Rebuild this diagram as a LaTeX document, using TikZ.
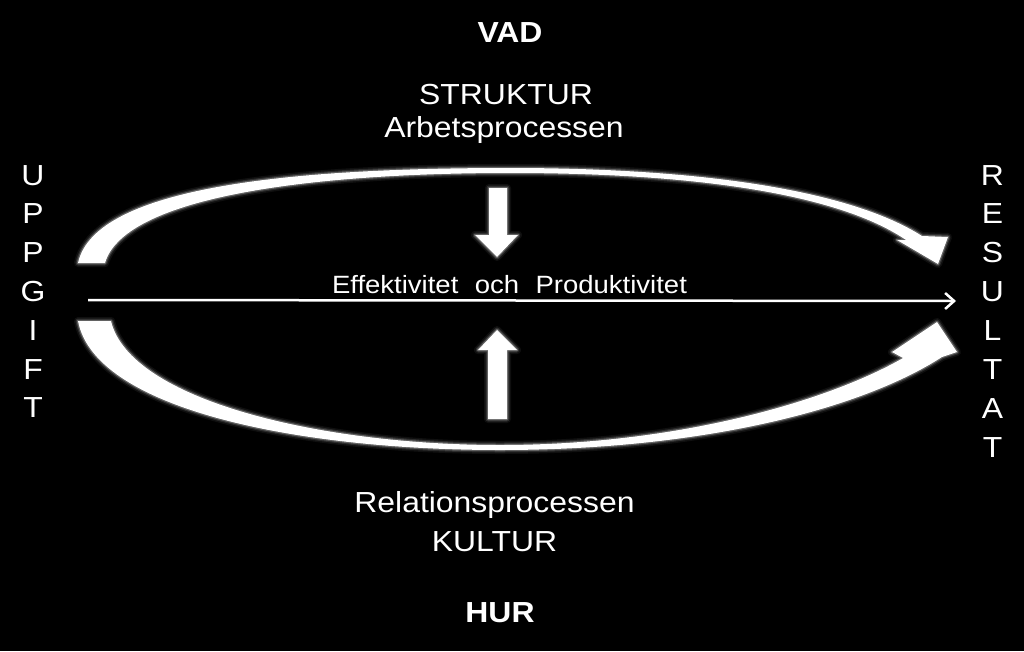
\documentclass[tikz,border=0pt]{standalone}
\usepackage{fontspec}
\setmainfont{Liberation Sans}
\usetikzlibrary{arrows.meta}
\newcommand\hstretch[1]{\scalebox{1.1}[1]{#1}}
\begin{document}
\begin{tikzpicture}[x=1pt,y=-1pt,
  glow/.style={fill=white, line join=round,
    preaction={draw=white,line width=8pt,opacity=0.06,line join=round},
    preaction={draw=white,line width=5pt,opacity=0.12,line join=round},
    preaction={draw=gray!80,line width=2.5pt,opacity=0.5,line join=round}},
  big/.style={text=white, anchor=base, inner sep=0pt, font=\fontsize{29}{34}\selectfont},
  bigbold/.style={big, font=\fontsize{29}{34}\selectfont\bfseries},
  mid/.style={text=white, anchor=base, inner sep=0pt, font=\fontsize{25}{30}\selectfont},
  letter/.style={big},
  flow/.style={white, line width=2.5pt, -{Straight Barb[length=9pt,width=16pt]}}
]
\useasboundingbox (0,0) rectangle (1024,651);
\fill[black] (0,0) rectangle (1024,651);

% top curved arrow
\path[glow] (78,263) .. controls (95,185) and (300,168) .. (510,168)
  .. controls (700,168) and (850,190) .. (922,236)
  -- (948,237) -- (938,264) -- (897,240) -- (906,240)
  .. controls (840,195) and (700,173) .. (510,173)
  .. controls (320,173) and (125,195) .. (105,263) -- cycle;

% bottom curved arrow
\path[glow] (111,321) .. controls (130,400) and (320,445) .. (500,445)
  .. controls (680,445) and (830,400) .. (903,358)
  -- (892,352) -- (937,322) -- (957,352) -- (942,357)
  .. controls (860,410) and (700,450) .. (500,450)
  .. controls (300,450) and (95,410) .. (78,321) -- cycle;

% block arrows
\path[glow] (489,188) -- (507,188) -- (507,235) -- (518,235) -- (497,257)
  -- (475,235) -- (489,235) -- cycle;
\path[glow] (488,419) -- (507,419) -- (507,350) -- (517,350) -- (497,330)
  -- (478,350) -- (488,350) -- cycle;

% central arrow
\coordinate (hs) at (88,300);
\coordinate (he) at (956,301);
\draw[flow] (hs) -- (he);

% texts
\node[bigbold] (vad) at (510,42) {\hstretch{VAD}};
\node[big] (struktur) at (506,104) {\hstretch{STRUKTUR}};
\node[big] (arbets) at (504,137) {\hstretch{Arbetsprocessen}};
\node[mid] (eff) at (509.5,293) {\hstretch{Effektivitet\hspace{8pt} och\hspace{8pt} Produktivitet}};
\node[big] (relation) at (494.5,512) {\hstretch{Relationsprocessen}};
\node[big] (kultur) at (494.5,551) {\hstretch{KULTUR}};
\node[bigbold] (hur) at (500,622) {\hstretch{HUR}};

\foreach \c [count=\i] in {U,P,P,G,I,F,T}
  \node[letter] (u\i) at ({33},{185+38.8*(\i-1)}) {\hstretch{\c}};
\foreach \c [count=\i] in {R,E,S,U,L,T,A,T}
  \node[letter] (r\i) at ({992.5},{185+38.9*(\i-1)}) {\hstretch{\c}};
\end{tikzpicture}
\end{document}
